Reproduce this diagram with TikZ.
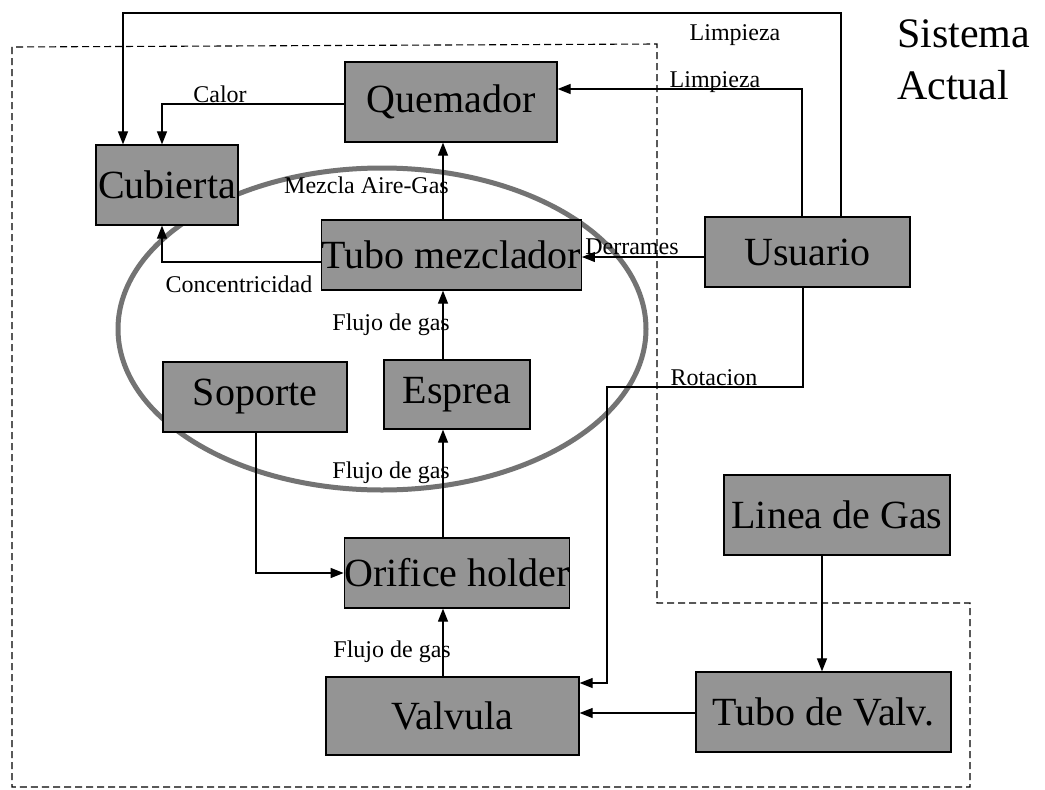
\documentclass[tikz,border=0pt]{standalone}
\usepackage{fontspec}
\setmainfont{Liberation Serif}
\usepackage{xcolor}
\usepackage{tikz}
\usetikzlibrary{arrows.meta, positioning, calc}

\begin{document}
\begin{tikzpicture}[
  x=1pt, y=-1pt,
  blk/.style={draw, line width=1.3pt, fill=black!42, inner sep=0pt, font=\fontsize{40}{46}\selectfont},
  lbl/.style={font=\fontsize{24}{28}\selectfont, inner sep=0pt},
  arr/.style={-{Triangle[length=13pt, width=10pt]}, line width=1.2pt},
  bound/.style={line width=1.1pt, dash pattern=on 7pt off 4pt}
]
  \useasboundingbox (0,0) rectangle (1045,790);
  \fill[white] (0,0) rectangle (1045,790);

  % System boundary
  \draw[bound] (12,47) -- (12,787) -- (970,787) -- (970,603) -- (657,603) -- (657,44) -- cycle;

  % Subsystem ellipse
  \draw[line width=5pt, black!55] (382,329) ellipse [x radius=264, y radius=161];

  % Components
  \node[blk, minimum width=212, minimum height=80] (quem) at (451,102) {Quemador};
  \node[blk, minimum width=142, minimum height=80] (cub)  at (167,185) {Cubierta};
  \node[blk, minimum width=253, minimum height=70] (tubo) at (451.5,255) {Tubo mezclador};
  \node[blk, minimum width=205, minimum height=70] (usu)  at (807.5,252) {Usuario};
  \node[blk, minimum width=184, minimum height=70] (sop)  at (255,397) {Soporte};
  \node[blk, minimum width=146, minimum height=69] (esp)  at (457,394.5) {Esprea};
  \node[blk, minimum width=224, minimum height=70] (ori)  at (457,573) {Orifice holder};
  \node[blk, minimum width=253, minimum height=78] (val)  at (452.5,716) {Valvula};
  \node[blk, minimum width=226, minimum height=80] (lin)  at (837,515) {Linea de Gas};
  \node[blk, minimum width=255, minimum height=80] (tdv)  at (823.5,712) {Tubo de Valv.};

  % Title
  \node[anchor=north west, align=left, inner sep=0pt, font=\fontsize{42}{52}\selectfont] (title) at (897,19) {Sistema\\Actual};

  % Routing points
  \coordinate (gasx) at (443,0);
  \coordinate (cubx1) at (123,0);
  \coordinate (cubx2) at (162,0);
  \coordinate (lim1) at (841,13);
  \coordinate (lim2) at (802,89);
  \coordinate (calory) at (0,104);
  \coordinate (concy) at (0,262);
  \coordinate (derry) at (0,257);
  \coordinate (sopx) at (256,0);
  \coordinate (rot1) at (803,387);
  \coordinate (rot2) at (607,387);
  \coordinate (roty) at (0,683);
  \coordinate (linx) at (822,0);
  \coordinate (valy) at (0,713);

  % Connections
  \draw[arr] (usu.north -| lim1) -- (lim1) -| (cub.north -| cubx1);
  \draw[arr] (usu.north -| lim2) -- (lim2) -- (quem.east |- lim2);
  \draw[arr] (quem.west |- calory) -| (cub.north -| cubx2);
  \draw[arr] (tubo.north -| gasx) -- (quem.south -| gasx);
  \draw[arr] (tubo.west |- concy) -| (cub.south -| cubx2);
  \draw[arr] (usu.west |- derry) -- (tubo.east |- derry);
  \draw[arr] (esp.north -| gasx) -- (tubo.south -| gasx);
  \draw[arr] (ori.north -| gasx) -- (esp.south -| gasx);
  \draw[arr] (val.north -| gasx) -- (ori.south -| gasx);
  \draw[arr] (sop.south -| sopx) |- (ori.west);
  \draw[arr] (usu.south -| rot1) -- (rot1) -- (rot2) |- (val.east |- roty);
  \draw[arr] (lin.south -| linx) -- (tdv.north -| linx);
  \draw[arr] (tdv.west |- valy) -- (val.east |- valy);

  % Labels
  \node[lbl, anchor=base] (l_lim1) at (735,40) {Limpieza};
  \node[lbl, anchor=base] (l_lim2) at (715,87) {Limpieza};
  \node[lbl, anchor=base] (l_calor) at (220,102) {Calor};
  \node[lbl, anchor=base east] (l_mezcla) at (449,193) {Mezcla Aire-Gas};
  \node[lbl, anchor=base] (l_conc) at (239,292) {Concentricidad};
  \node[lbl, anchor=base] (l_derr) at (632,254) {Derrames};
  \node[lbl, anchor=base east] (l_flujo1) at (450,330) {Flujo de gas};
  \node[lbl, anchor=base east] (l_flujo2) at (450,478) {Flujo de gas};
  \node[lbl, anchor=base east] (l_flujo3) at (451,657) {Flujo de gas};
  \node[lbl, anchor=base] (l_rot) at (714,385) {Rotacion};
\end{tikzpicture}
\end{document}
